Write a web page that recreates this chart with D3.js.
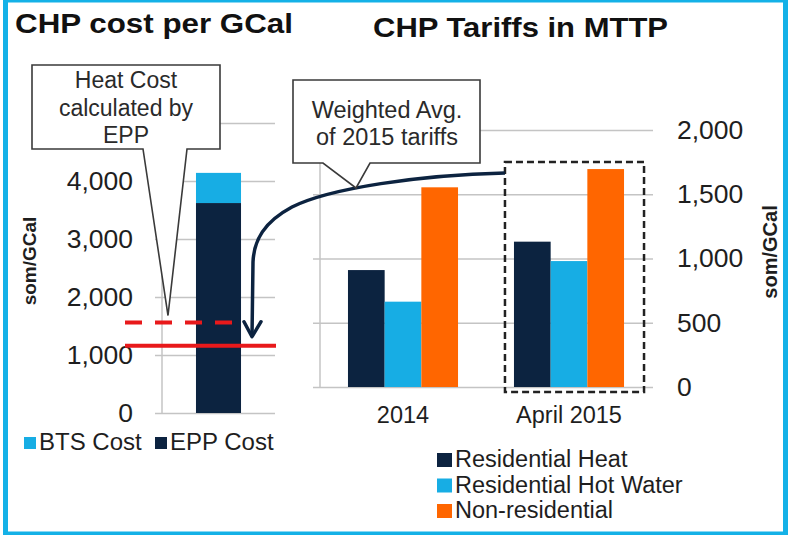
<!DOCTYPE html>
<html>
<head>
<meta charset="utf-8">
<script src="https://cdn.jsdelivr.net/npm/d3@7"></script>
<style>
  body { margin: 0; background: #fff; }
  svg { display: block; font-family: "Liberation Sans", Arial, sans-serif; }
</style>
</head>
<body>
<svg id="chart" width="788" height="535"></svg>
<script>
// left chart: CHP cost per GCal
const costCats = ["EPP"];
const eppCost = [3620];
const btsCost = [520];
const heatCostEPP = 1560;      // dashed red line
const weightedAvg2015 = 1160;  // solid red line
const leftTicks = [0, 1000, 2000, 3000, 4000, 5000];

// right chart: CHP tariffs in MTTP
const tariffCats = ["2014", "April 2015"];
const resHeat = [910, 1131];
const resHotWater = [664, 980];
const nonResidential = [1554, 1696];
const tariffSeries = ["Residential Heat", "Residential Hot Water", "Non-residential"];
const rightTicks = [0, 500, 1000, 1500, 2000];

const navy = "#0c2340", cyan = "#17ade4", orange = "#ff6600", red = "#e8191b";
const gridColor = "#c4c4c4", textColor = "#1e1e1e";

const svg = d3.select("#chart");

// frame
svg.append("rect")
    .attr("x", 5.5).attr("y", 0).attr("width", 780).attr("height", 534)
    .attr("fill", "#fff").attr("stroke", "#14b1e7").attr("stroke-width", 5);

// titles
svg.append("text").attr("x", 15).attr("y", 33)
    .attr("font-size", 28).attr("font-weight", "bold").attr("fill", "#111")
    .attr("textLength", 278).attr("lengthAdjust", "spacingAndGlyphs")
    .text("CHP cost per GCal");
svg.append("text").attr("x", 373).attr("y", 37)
    .attr("font-size", 28).attr("font-weight", "bold").attr("fill", "#111")
    .attr("textLength", 295).attr("lengthAdjust", "spacingAndGlyphs")
    .text("CHP Tariffs in MTTP");

// ---------- left chart ----------
const yL = d3.scaleLinear().domain([0, 5000]).range([413, 123]);
const xL = d3.scaleBand().domain(costCats).range([162, 275]).padding(0.43);

// the 5,000 label sits under the callout in the original, so it is left blank
const leftAxis = d3.axisLeft(yL)
    .tickValues(leftTicks)
    .tickFormat(d => d === 5000 ? "" : d3.format(",")(d))
    .tickSize(-120)
    .tickPadding(22);
const gL = svg.append("g").attr("transform", "translate(155,0)").call(leftAxis);
gL.select(".domain").remove();
gL.selectAll("line").attr("stroke", gridColor).attr("stroke-width", 1.5);
gL.selectAll("text").attr("font-size", 26.5).attr("fill", textColor).attr("font-family", null);

svg.append("line")
    .attr("x1", 162).attr("x2", 162).attr("y1", yL(5000)).attr("y2", yL(0))
    .attr("stroke", gridColor).attr("stroke-width", 1.5);

const leftStack = d3.stack().keys(["epp", "bts"])(
    costCats.map((c, i) => ({cat: c, epp: eppCost[i], bts: btsCost[i]}))
);
const leftColors = {epp: navy, bts: cyan};
svg.append("g").selectAll("g").data(leftStack).join("g")
    .attr("fill", d => leftColors[d.key])
    .selectAll("rect").data(d => d).join("rect")
    .attr("x", d => xL(d.data.cat))
    .attr("width", xL.bandwidth())
    .attr("y", d => yL(d[1]))
    .attr("height", d => yL(d[0]) - yL(d[1]));

svg.append("line")
    .attr("x1", 125).attr("x2", 242)
    .attr("y1", yL(heatCostEPP)).attr("y2", yL(heatCostEPP))
    .attr("stroke", red).attr("stroke-width", 4).attr("stroke-dasharray", "17,13");
svg.append("line")
    .attr("x1", 125).attr("x2", 276)
    .attr("y1", yL(weightedAvg2015)).attr("y2", yL(weightedAvg2015))
    .attr("stroke", red).attr("stroke-width", 4);

svg.append("text")
    .attr("transform", "translate(36,261) rotate(-90)")
    .attr("text-anchor", "middle").attr("font-size", 19).attr("font-weight", "bold")
    .attr("fill", textColor).text("som/GCal");

// left legend
const leftLegend = [{name: "BTS Cost", color: cyan, x: 24}, {name: "EPP Cost", color: navy, x: 155}];
const ll = svg.append("g").selectAll("g").data(leftLegend).join("g")
    .attr("transform", d => `translate(${d.x},450)`);
ll.append("rect").attr("x", 0).attr("y", -13).attr("width", 12).attr("height", 12).attr("fill", d => d.color);
ll.append("text").attr("x", 15).attr("font-size", 24).attr("fill", textColor).text(d => d.name);

// ---------- right chart ----------
const yR = d3.scaleLinear().domain([0, 2000]).range([387, 130]);
const xR = d3.scaleBand().domain(tariffCats).range([320, 652])
    .paddingInner(0.337).paddingOuter(0.1685);
const xSub = d3.scaleBand().domain(tariffSeries).range([0, xR.bandwidth()]);
const seriesColors = d3.scaleOrdinal().domain(tariffSeries).range([navy, cyan, orange]);

const rightAxis = d3.axisRight(yR)
    .tickValues(rightTicks)
    .tickFormat(d3.format(","))
    .tickSize(-340)
    .tickPadding(24);
const gR = svg.append("g").attr("transform", "translate(653,0)").call(rightAxis);
gR.select(".domain").remove();
gR.selectAll("line").attr("stroke", gridColor).attr("stroke-width", 1.5);
gR.selectAll("text").attr("font-size", 26.5).attr("fill", textColor).attr("font-family", null);

svg.append("line")
    .attr("x1", 320).attr("x2", 320).attr("y1", yR(2000)).attr("y2", yR(0))
    .attr("stroke", gridColor).attr("stroke-width", 1.5);

const tariffRows = tariffCats.map((c, i) => ({
    cat: c,
    values: [
        {key: tariffSeries[0], value: resHeat[i]},
        {key: tariffSeries[1], value: resHotWater[i]},
        {key: tariffSeries[2], value: nonResidential[i]}
    ]
}));
svg.append("g").selectAll("g").data(tariffRows).join("g")
    .attr("transform", d => `translate(${xR(d.cat)},0)`)
    .selectAll("rect").data(d => d.values).join("rect")
    .attr("x", d => xSub(d.key))
    .attr("width", xSub.bandwidth())
    .attr("y", d => yR(d.value))
    .attr("height", d => yR(0) - yR(d.value))
    .attr("fill", d => seriesColors(d.key));

const xAxisR = d3.axisBottom(xR).tickSize(0).tickPadding(19);
const gX = svg.append("g").attr("transform", `translate(0,${yR(0)})`).call(xAxisR);
gX.select(".domain").remove();
gX.selectAll("text").attr("font-size", 23.5).attr("fill", textColor).attr("font-family", null);

svg.append("text")
    .attr("transform", "translate(777,252) rotate(-90)")
    .attr("text-anchor", "middle").attr("font-size", 20).attr("font-weight", "bold")
    .attr("fill", textColor).text("som/GCal");

// right legend
const rl = svg.append("g").selectAll("g").data(tariffSeries).join("g")
    .attr("transform", (d, i) => `translate(437,${467 + i * 25.5})`);
rl.append("rect").attr("x", 0).attr("y", -14).attr("width", 15).attr("height", 14)
    .attr("fill", d => seriesColors(d));
rl.append("text").attr("x", 18).attr("font-size", 23.5).attr("fill", textColor).text(d => d);

// dashed highlight round April 2015
const hx0 = xR("April 2015") - 9, hx1 = xR("April 2015") + xR.bandwidth() + 20;
svg.append("rect")
    .attr("x", hx0).attr("y", 162).attr("width", hx1 - hx0).attr("height", yR(0) + 5 - 162)
    .attr("fill", "none").attr("stroke", "#222").attr("stroke-width", 2.5)
    .attr("stroke-dasharray", "7,4");

// curved arrow from the highlight to the weighted average line
const arrowEndY = yL(weightedAvg2015) - 9;
svg.append("path")
    .attr("d", `M${hx0},173 C420,175 330,188 292,207 C264,222 254,240 253,262 L252,${arrowEndY}`)
    .attr("fill", "none").attr("stroke", navy).attr("stroke-width", 3.5);
svg.append("path")
    .attr("d", `M244,${arrowEndY - 15} L252,${arrowEndY} L261,${arrowEndY - 15}`)
    .attr("fill", "none").attr("stroke", navy).attr("stroke-width", 3.5)
    .attr("stroke-linejoin", "round").attr("stroke-linecap", "round");

// callouts
function callout(box, tip, b0, b1, lines, size, baselines, cx) {
    const [x0, y0, x1, y1] = box;
    svg.append("path")
        .attr("d", `M${x0},${y0} H${x1} V${y1} H${b1} L${tip[0]},${tip[1]} L${b0},${y1} H${x0} Z`)
        .attr("fill", "#fff").attr("stroke", "#3a3a3a").attr("stroke-width", 1.6);
    svg.append("g").selectAll("text").data(lines).join("text")
        .attr("x", cx).attr("y", (d, i) => baselines[i])
        .attr("text-anchor", "middle").attr("font-size", size).attr("fill", "#2a2a2a")
        .text(d => d);
}
callout([32, 65, 220, 149], [168, yL(heatCostEPP) - 7], 143, 187,
    ["Heat Cost", "calculated by", "EPP"], 23, [88, 116, 143], 126);
callout([293, 80, 480, 163], [356, 188], 323, 370,
    ["Weighted Avg.", "of 2015 tariffs"], 23.5, [118, 145], 387);
</script>
</body>
</html>
